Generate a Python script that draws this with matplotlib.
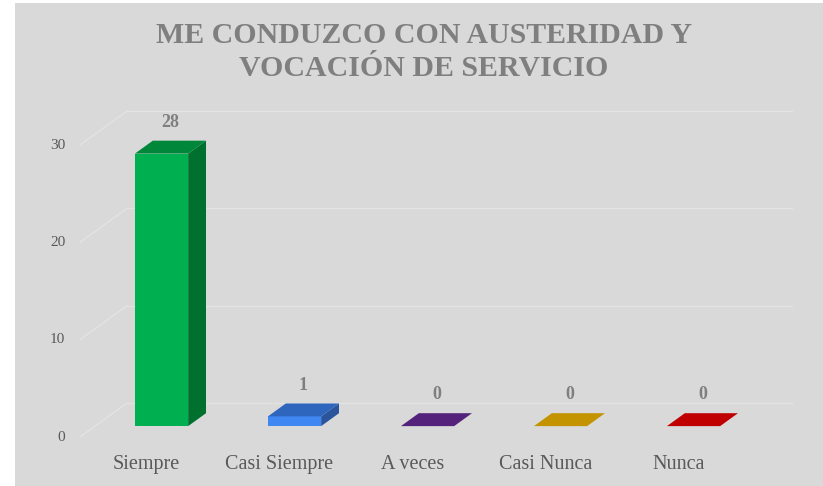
import matplotlib.pyplot as plt
from matplotlib.patches import Polygon, Rectangle
import numpy as np

# ======== Data ========
categories = ['Siempre', 'Casi Siempre', 'A veces', 'Casi Nunca', 'Nunca']
values = [28, 1, 0, 0, 0]
front_colors = ['#00b050', '#3f87f3', '#54227a', '#c49400', '#c00000']
top_colors = ['#00873a', '#2f66bd', '#54227a', '#c49400', '#c00000']
side_colors = ['#00702f', '#2a549c', '#3f1a5c', '#936f00', '#900000']
yticks = [0, 10, 20, 30]
title = 'ME CONDUZCO CON AUSTERIDAD Y\nVOCACIÓN DE SERVICIO'

# ======== Geometry (pixels -> data) ========
W, H = 823, 486
PX_X = 133.0          # px per category
PX_Y = 9.733          # px per unit of value
DEPTH_X = 47 / PX_X   # back wall offset in data units
DEPTH_Y = 34 / PX_Y
F0 = 0.32             # bar front face depth fraction
FD = 0.38             # bar depth fraction
BAR_W = 0.40

BG = '#d9d9d9'
GRID = '#e3e3e3'
SERIF = ['Liberation Serif', 'DejaVu Serif']

fig = plt.figure(figsize=(W / 100, H / 100), dpi=100)
fig.patch.set_facecolor('white')
fig.patches.append(Rectangle((15 / W, 0), 1, 1 - 3 / H, transform=fig.transFigure,
                             facecolor=BG, edgecolor='none', zorder=-10))

# axes: x from front floor left edge (80px) to past the back wall right
left_px, right_px = 80, 800
bottom_px, top_px = 437, 100
ax = fig.add_axes([left_px / W, (H - bottom_px) / H,
                   (right_px - left_px) / W, (bottom_px - top_px) / H])
ax.set_xlim(-0.5, -0.5 + (right_px - left_px) / PX_X)
ax.set_ylim(0, (bottom_px - top_px) / PX_Y)
ax.axis('off')

n = len(categories)
x0, x1 = -0.5, n - 0.5

# back wall gridlines and floor diagonals
for t in yticks:
    ax.plot([x0 + DEPTH_X, x1 + DEPTH_X], [t + DEPTH_Y, t + DEPTH_Y],
            color=GRID, lw=1.0, zorder=1)
    ax.plot([x0, x0 + DEPTH_X], [t, t + DEPTH_Y], color=GRID, lw=1.0, zorder=1)
    ax.text(x0 - 0.11, t, str(t), ha='right', va='center', fontsize=11,
            color='#595959', family=SERIF)

# bars
for i, (v, fc, tc, sc) in enumerate(zip(values, front_colors, top_colors, side_colors)):
    bx = i - BAR_W / 2 + F0 * DEPTH_X
    by = F0 * DEPTH_Y
    dx, dy = FD * DEPTH_X, FD * DEPTH_Y
    if v > 0:
        ax.add_patch(Polygon([(bx + BAR_W, by), (bx + BAR_W + dx, by + dy),
                              (bx + BAR_W + dx, by + v + dy), (bx + BAR_W, by + v)],
                             closed=True, facecolor=sc, edgecolor='none', zorder=3))
        ax.add_patch(Rectangle((bx, by), BAR_W, v, facecolor=fc, edgecolor='none', zorder=4))
    ax.add_patch(Polygon([(bx, by + v), (bx + BAR_W, by + v),
                          (bx + BAR_W + dx, by + v + dy), (bx + dx, by + v + dy)],
                         closed=True, facecolor=tc, edgecolor='none', zorder=4))
    ax.text(i + F0 * DEPTH_X + dx / 2, by + v + dy + 1.0, str(v),
            ha='center', va='bottom', fontsize=13, fontweight='bold',
            color='#7f7f7f', family=SERIF)
    ax.text(i, -1.9, categories[i], ha='center', va='top', fontsize=14.5,
            color='#595959', family=SERIF, clip_on=False)

fig.text(0.515, 1 - 52 / H, title, ha='center', va='center', fontsize=21.5,
         fontweight='bold', color='#7f7f7f', family=SERIF, linespacing=1.3)

fig.savefig('out.png', dpi=100, facecolor=fig.get_facecolor())
